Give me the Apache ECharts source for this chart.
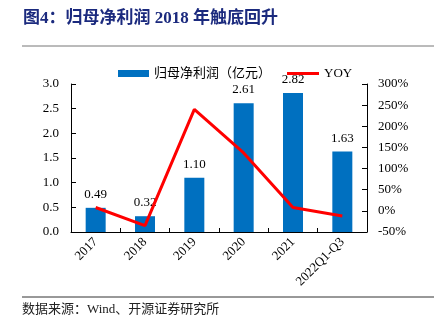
<!DOCTYPE html>
<html><head><meta charset="utf-8">
<script src="https://cdn.jsdelivr.net/npm/echarts@6/dist/echarts.min.js"></script>
<style>html,body{margin:0;padding:0;background:#fff}#c{width:434px;height:327px}</style>
</head><body><div id="c"></div>
<script>
var categories = ['2017', '2018', '2019', '2020', '2021', '2022Q1-Q3'];
var profit = [0.49, 0.32, 1.10, 2.61, 2.82, 1.63];
var yoy = [8, -35, 240, 137, 8, -12];
var leftTicks = [0, 3, 0.5];
var rightTicks = [-50, 300, 50];

var serif = '"Liberation Serif","Times New Roman","Noto Sans CJK SC",serif';
var chart = echarts.init(document.getElementById('c'), null, {renderer: 'canvas'});
chart.setOption({
  animation: false,
  backgroundColor: '#fff',
  graphic: [
    {type: 'text', left: 23, top: 10, style: {text: '图4：归母净利润 2018 年触底回升', font: 'bold 17px ' + serif, fill: '#1B2A7E'}},
    {type: 'line', shape: {x1: 22, y1: 46, x2: 434, y2: 46}, style: {stroke: '#777', lineWidth: 1}},
    {type: 'line', shape: {x1: 22, y1: 297, x2: 434, y2: 297}, style: {stroke: '#333', lineWidth: 1}},
    {type: 'text', left: 22, top: 303, style: {text: '数据来源：Wind、开源证券研究所', font: '13px ' + serif, fill: '#222'}}
  ],
  legend: [
    {top: 62, left: 113, itemWidth: 31, itemHeight: 7,
     textStyle: {fontFamily: serif, fontSize: 13, color: '#000'},
     data: [{name: '归母净利润（亿元）', icon: 'rect'}]},
    {top: 62, left: 282, itemWidth: 32, itemHeight: 3, itemGap: 4,
     textStyle: {fontFamily: serif, fontSize: 13, color: '#000'},
     data: [{name: 'YOY', icon: 'rect'}]}
  ],
  grid: {left: 71, right: 67, top: 84, bottom: 95},
  xAxis: {
    type: 'category', data: categories,
    axisLine: {lineStyle: {color: '#000', width: 1}},
    axisTick: {show: true, inside: true, alignWithLabel: false, length: 4, lineStyle: {color: '#000'}},
    axisLabel: {rotate: 45, margin: 8, fontFamily: serif, fontSize: 13, color: '#000', interval: 0}
  },
  yAxis: [
    {type: 'value', min: leftTicks[0], max: leftTicks[1], interval: leftTicks[2],
     axisLine: {show: true, lineStyle: {color: '#000'}},
     axisTick: {show: true, inside: true, length: 5, lineStyle: {color: '#000'}},
     splitLine: {show: false},
     axisLabel: {margin: 12, fontFamily: serif, fontSize: 13, color: '#000', formatter: function (v) { return v.toFixed(1); }}},
    {type: 'value', min: rightTicks[0], max: rightTicks[1], interval: rightTicks[2], position: 'right',
     axisLine: {show: true, lineStyle: {color: '#000'}},
     axisTick: {show: true, inside: true, length: 5, lineStyle: {color: '#000'}},
     splitLine: {show: false},
     axisLabel: {margin: 11, fontFamily: serif, fontSize: 13, color: '#000', formatter: '{value}%'}}
  ],
  series: [
    {name: '归母净利润（亿元）', type: 'bar', data: profit, barWidth: 20, itemStyle: {color: '#0070C0'},
     label: {show: true, position: 'top', distance: 7, fontFamily: serif, fontSize: 13, color: '#000',
       formatter: function (p) { return p.value.toFixed(2); }}},
    {name: 'YOY', type: 'line', yAxisIndex: 1, data: yoy, symbol: 'none',
     lineStyle: {color: '#FF0000', width: 3}, itemStyle: {color: '#FF0000'}}
  ]
});
</script></body></html>
